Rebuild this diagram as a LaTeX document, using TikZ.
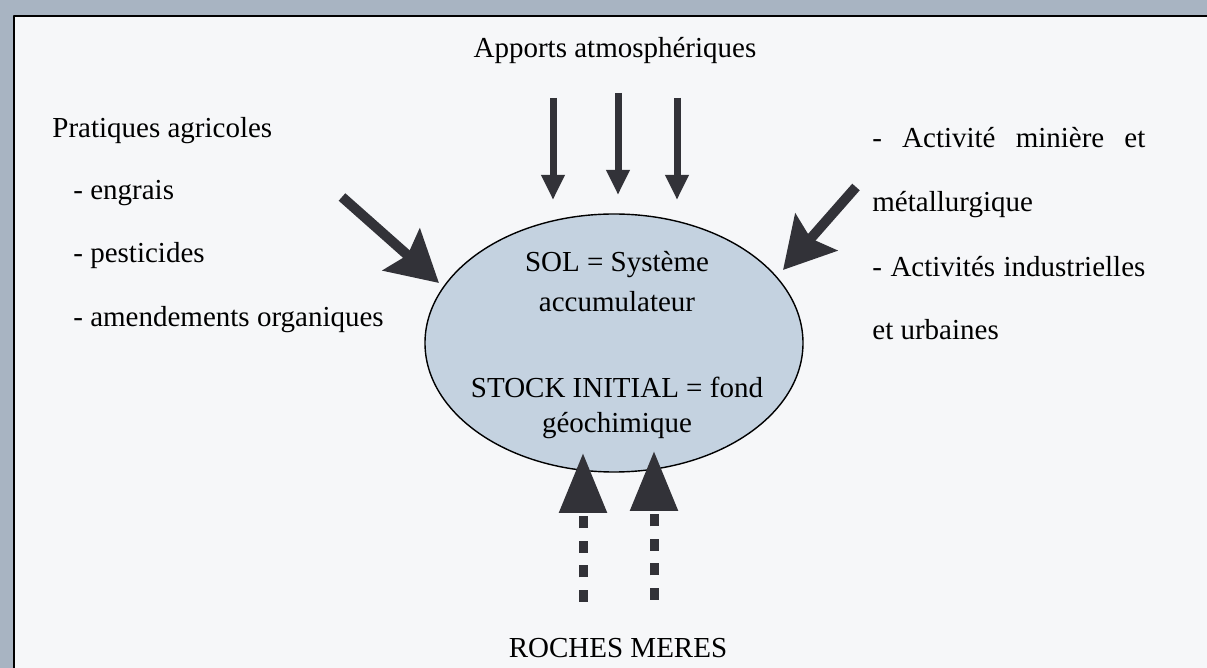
\documentclass[tikz,border=0pt]{standalone}
\usepackage{fontspec}
\setmainfont{Liberation Serif}
\usetikzlibrary{arrows.meta,shapes.geometric}
\definecolor{cadre}{RGB}{168,180,194}
\definecolor{fondpage}{RGB}{246,247,249}
\definecolor{fondsol}{RGB}{196,210,224}
\definecolor{fleche}{RGB}{50,50,56}
\begin{document}
\begin{tikzpicture}[x=0.5pt,y=-0.5pt,font=\fontsize{14.5}{17}\selectfont,line join=round,
	txt/.style={anchor=base west,inner sep=0pt},
	ctxt/.style={anchor=base,inner sep=0pt},
	pluie/.style={fleche,line width=3.5pt,-{Triangle[length=12.5pt,width=11pt]}},
	grosse/.style={fleche,line width=5pt,-{Stealth[length=25pt,width=27.5pt,inset=4pt]}},
	roche/.style={fleche,line width=4.5pt,dash pattern=on 6pt off 6.25pt,-{Triangle[length=30pt,width=23pt]}}]
	\useasboundingbox (0,0) rectangle (1207,668);
	%%%Cadre
	\fill[cadre] (0,0) rectangle (1207,668);
	\fill[fondpage] (14,16) rectangle (1207,668);
	\draw[line width=1.2pt] (14,668)--(14,16)--(1207,16);
	%%%Sol
	\node[ellipse,draw,fill=fondsol,line width=0.7pt,minimum width=189pt,minimum height=129pt,inner sep=0pt] (sol) at (614,343) {};
	\node[ctxt] (sol1) at (617,272) {SOL = Système};
	\node[ctxt] (sol2) at (617,312) {accumulateur};
	\node[ctxt] (stock1) at (617,398) {STOCK INITIAL = fond};
	\node[ctxt] (stock2) at (617,433) {géochimique};
	%%%Textes
	\node[ctxt] (apports) at (615,58) {Apports atmosphériques};
	\node[txt] (pratiques) at (52,138) {Pratiques agricoles};
	\node[txt] (engrais) at (73,200) {- engrais};
	\node[txt] (pesticides) at (73,263) {- pesticides};
	\node[txt] (amendements) at (73,327) {- amendements organiques};
	\node[txt] (miniere) at (872,148) {\makebox[136.5pt][s]{- Activité minière et}};
	\node[txt] (metal) at (872,212) {métallurgique};
	\node[txt] (industrie) at (872,277) {\makebox[136.5pt][s]{- Activités industrielles}};
	\node[txt] (urbaines) at (872,340) {et urbaines};
	\node[ctxt] (roches) at (618,658) {ROCHES MERES};
	%%%Fleches
	\foreach \x/\h [count=\i] in {553/98,618/93,677/98}{
		\coordinate (haut\i) at (\x,\h);
		\coordinate (bas\i) at (\x,\h+102);
		\draw[pluie] (haut\i)--(bas\i);
	}
	\coordinate (agri) at (342,197);
	\coordinate (agri2) at (439,283);
	\coordinate (mine) at (856,187);
	\coordinate (mine2) at (783,270);
	\draw[grosse] (agri)--(agri2);
	\draw[grosse] (mine)--(mine2);
	\foreach \x/\h [count=\i] in {583/602,654/600}{
		\coordinate (roche\i) at (\x,\h);
		\coordinate (pointe\i) at (\x,\h-149);
		\draw[roche] (roche\i)--(pointe\i);
	}
\end{tikzpicture}
\end{document}
